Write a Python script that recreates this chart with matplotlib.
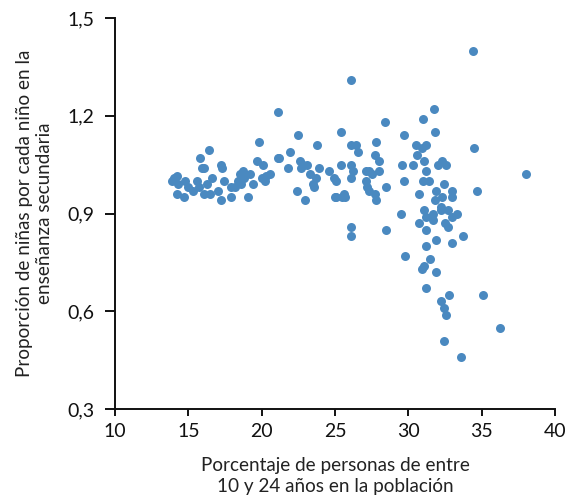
import matplotlib.pyplot as plt

# share of people aged 10-24 in the population (%)
youth_share = [
    14.0, 14.2, 13.9, 14.3, 14.2, 14.7, 14.8, 15.0, 15.3, 15.6,
    15.7, 15.8, 16.4, 15.95, 16.1, 16.25, 16.1, 16.5, 16.6, 17.0,
    17.2, 17.2, 17.3, 17.4, 17.9, 17.9, 18.2, 18.4, 18.5, 18.6,
    18.75, 18.8, 19.1, 19.2, 19.4, 19.7, 20.1, 19.8, 20.0, 20.3,
    20.6, 20.2, 21.1, 21.2, 21.1, 21.9, 22.5, 21.8, 22.4, 22.95,
    22.6, 22.8, 23.1, 22.7, 23.8, 23.9, 23.3, 23.7, 23.5, 23.6,
    24.6, 24.9, 25.1, 25.0, 25.45, 25.7, 25.6, 25.1, 25.4, 25.4,
    26.1, 26.1, 26.4, 26.6, 26.1, 26.2, 26.1, 26.1, 26.1, 27.1,
    27.3, 27.5, 27.1, 27.2, 27.3, 27.7, 27.8, 27.7, 27.8, 28.0,
    28.0, 28.4, 28.5, 28.5, 29.5, 29.6, 29.7, 29.7, 29.8, 30.3,
    30.5, 30.6, 30.7, 30.7, 30.9, 31.0, 31.0, 31.1, 31.1, 31.1,
    30.9, 31.2, 31.2, 31.2, 31.2, 31.2, 31.2, 31.4, 31.5, 31.65,
    31.7, 31.75, 31.8, 31.8, 31.9, 31.9, 31.9, 32.0, 32.2, 32.2,
    32.2, 32.3, 32.3, 32.4, 32.4, 32.4, 32.5, 32.6, 32.6, 32.7,
    32.7, 32.75, 33.0, 33.0, 33.0, 33.0, 33.3, 33.6, 33.7, 34.4,
    34.5, 34.7, 35.1, 36.25, 38.0,
]

# girls per boy in secondary education
girls_per_boy = [
    1.01, 1.015, 1.00, 0.99, 0.96, 0.95, 1.00, 0.98, 0.97, 1.00,
    0.98, 1.07, 1.095, 1.04, 1.04, 0.99, 0.96, 0.96, 1.01, 0.97,
    0.94, 1.05, 1.04, 1.00, 0.98, 0.95, 0.98, 1.00, 1.02, 0.99,
    1.03, 1.01, 0.95, 1.02, 0.99, 1.06, 1.05, 1.12, 1.01, 1.015,
    1.02, 1.00, 1.07, 1.07, 1.21, 1.09, 1.14, 1.04, 0.97, 0.94,
    1.06, 1.05, 1.05, 1.04, 1.11, 1.04, 1.02, 1.01, 0.99, 0.98,
    1.03, 1.01, 1.00, 0.95, 0.95, 0.95, 0.96, 0.95, 1.15, 1.05,
    1.31, 1.11, 1.11, 1.09, 1.05, 1.03, 1.01, 0.86, 0.83, 1.03,
    1.03, 1.02, 1.00, 0.98, 0.97, 0.96, 0.94, 1.08, 1.12, 1.06,
    1.03, 1.18, 0.98, 0.85, 0.90, 1.05, 1.14, 1.00, 0.77, 1.05,
    1.11, 1.08, 0.96, 0.87, 1.10, 1.19, 1.00, 1.06, 0.91, 0.74,
    0.73, 1.11, 1.03, 0.89, 0.85, 0.80, 0.67, 1.00, 0.76, 0.90,
    0.88, 1.22, 1.15, 0.94, 0.97, 0.82, 0.72, 1.05, 0.92, 0.91,
    0.63, 1.06, 0.95, 0.99, 0.61, 0.51, 0.87, 1.05, 0.59, 0.91,
    0.86, 0.65, 0.97, 0.95, 0.89, 0.81, 0.90, 0.46, 0.83, 1.40,
    1.10, 0.97, 0.65, 0.55, 1.02,
]

x_ticks = [10, 15, 20, 25, 30, 35, 40]
y_ticks = [0.3, 0.6, 0.9, 1.2, 1.5]
y_tick_labels = ['0,3', '0,6', '0,9', '1,2', '1,5']

plt.rcParams['font.family'] = ['Lato', 'DejaVu Sans']

fig = plt.figure(figsize=(5.71, 4.96), dpi=100)
ax = fig.add_axes([0.2014, 0.1754, 0.7706, 0.7883])

ax.scatter(youth_share, girls_per_boy, s=42, color='#4a89c0', linewidths=0, zorder=3)

ax.set_xlim(10, 40)
ax.set_ylim(0.3, 1.5)
ax.set_xticks(x_ticks)
ax.set_yticks(y_ticks)
ax.set_yticklabels(y_tick_labels)

for side in ['top', 'right']:
    ax.spines[side].set_visible(False)
for side in ['left', 'bottom']:
    ax.spines[side].set_linewidth(1.4)
    ax.spines[side].set_color('#111111')

ax.tick_params(direction='out', width=1.4, labelsize=14, colors='#111111')
ax.tick_params(axis='y', length=7, pad=8)
ax.tick_params(axis='x', length=5, pad=5)

ax.set_xlabel('Porcentaje de personas de entre\n10 y 24 años en la población',
              fontsize=13.6, color='#222222', labelpad=12, linespacing=1.3)
ax.set_ylabel('Proporción de niñas por cada niño en la\nenseñanza secundaria',
              fontsize=13.6, color='#222222', labelpad=10, linespacing=1.25)

fig.savefig('out.png', dpi=100)
